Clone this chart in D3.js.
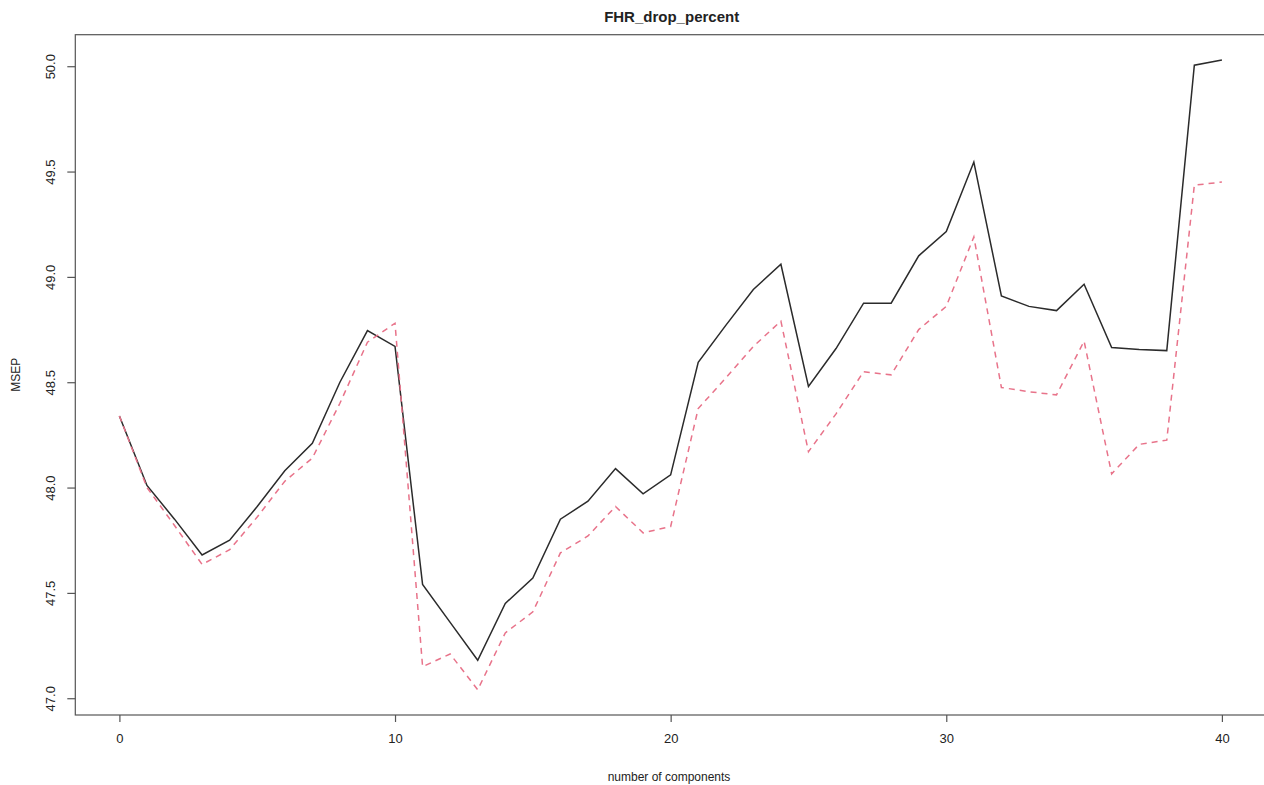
<!DOCTYPE html>
<html>
<head>
<meta charset="utf-8">
<script src="https://cdn.jsdelivr.net/npm/d3@7"></script>
<style>
  html, body { margin: 0; padding: 0; background: #fff; overflow: hidden; }
  text { font-family: "Liberation Sans", Arial, Helvetica, sans-serif; fill: #222; }
</style>
</head>
<body>
<div id="chart"></div>
<script>
var title = "FHR_drop_percent";
var xLabel = "number of components";
var yLabel = "MSEP";

// number of components 0..40
var components = [0,1,2,3,4,5,6,7,8,9,10,11,12,13,14,15,16,17,18,19,20,
                  21,22,23,24,25,26,27,28,29,30,31,32,33,34,35,36,37,38,39,40];

// CV (solid black)
var msepCV = [48.34,48.01,47.85,47.68,47.75,47.91,48.08,48.21,48.50,48.745,48.67,
              47.54,47.36,47.18,47.45,47.57,47.85,47.935,48.09,47.97,48.06,
              48.595,48.77,48.94,49.06,48.48,48.66,48.875,48.875,49.10,49.215,
              49.545,48.91,48.86,48.84,48.965,48.665,48.655,48.65,50.005,50.03];

// adjCV (dashed red)
var msepAdj = [48.34,48.00,47.82,47.635,47.705,47.86,48.03,48.14,48.40,48.69,48.78,
               47.15,47.21,47.04,47.31,47.41,47.69,47.77,47.91,47.785,47.815,
               48.375,48.52,48.67,48.79,48.17,48.35,48.55,48.535,48.75,48.86,
               49.19,48.475,48.455,48.44,48.695,48.065,48.205,48.225,49.435,49.45];

var xTicks = [0, 10, 20, 30, 40];
var yTicks = [47.0, 47.5, 48.0, 48.5, 49.0, 49.5, 50.0];

var width = 1264, height = 785;
var plot = { left: 75.3, right: 1266, top: 34.7, bottom: 715 };

var svg = d3.select("#chart").append("svg")
    .attr("width", width)
    .attr("height", height);

// R-style 4% range extension
var xExt = d3.extent(components), xPad = (xExt[1] - xExt[0]) * 0.04;
var allY = msepCV.concat(msepAdj);
var yExt = d3.extent(allY), yPad = (yExt[1] - yExt[0]) * 0.04;

var x = d3.scaleLinear()
    .domain([xExt[0] - xPad, xExt[1] + xPad])
    .range([plot.left, plot.right]);
var y = d3.scaleLinear()
    .domain([yExt[0] - yPad, yExt[1] + yPad])
    .range([plot.bottom, plot.top]);

var line = d3.line()
    .x(function(d) { return x(d[0]); })
    .y(function(d) { return y(d[1]); });

svg.append("path")
    .datum(components.map(function(c, i) { return [c, msepCV[i]]; }))
    .attr("d", line)
    .attr("fill", "none")
    .attr("stroke", "#2b2b2b")
    .attr("stroke-width", 1.5);

svg.append("path")
    .datum(components.map(function(c, i) { return [c, msepAdj[i]]; }))
    .attr("d", line)
    .attr("fill", "none")
    .attr("stroke", "#e8738a")
    .attr("stroke-width", 1.5)
    .attr("stroke-dasharray", "6,5");

// box
svg.append("rect")
    .attr("x", plot.left)
    .attr("y", plot.top)
    .attr("width", plot.right - plot.left)
    .attr("height", plot.bottom - plot.top)
    .attr("fill", "none")
    .attr("stroke", "#555")
    .attr("stroke-width", 1.2);

// x axis
var xAxis = svg.append("g")
    .attr("transform", "translate(0," + plot.bottom + ")")
    .call(d3.axisBottom(x).tickValues(xTicks).tickSize(7).tickPadding(12).tickFormat(d3.format("d")));
xAxis.select(".domain").remove();
xAxis.selectAll("line").attr("stroke", "#555").attr("stroke-width", 1.2);
xAxis.selectAll("text").attr("font-size", 13).attr("fill", "#222");

// y axis
var yAxis = svg.append("g")
    .attr("transform", "translate(" + plot.left + ",0)")
    .call(d3.axisLeft(y).tickValues(yTicks).tickSize(8).tickFormat(d3.format(".1f")));
yAxis.select(".domain").remove();
yAxis.selectAll("line").attr("stroke", "#555").attr("stroke-width", 1.2);
yAxis.selectAll("text")
    .attr("font-size", 13)
    .attr("fill", "#222")
    .attr("x", null).attr("dy", null)
    .attr("text-anchor", "middle")
    .attr("transform", "translate(-20,0) rotate(-90)");

// title & labels
svg.append("text")
    .attr("x", (plot.left + 1264) / 2 + 2)
    .attr("y", 22)
    .attr("text-anchor", "middle")
    .attr("font-size", 15)
    .attr("font-weight", "bold")
    .text(title);

svg.append("text")
    .attr("x", 669)
    .attr("y", 781)
    .attr("text-anchor", "middle")
    .attr("font-size", 12)
    .text(xLabel);

svg.append("text")
    .attr("transform", "translate(20," + ((plot.top + plot.bottom) / 2) + ") rotate(-90)")
    .attr("text-anchor", "middle")
    .attr("font-size", 12)
    .text(yLabel);
</script>
</body>
</html>
